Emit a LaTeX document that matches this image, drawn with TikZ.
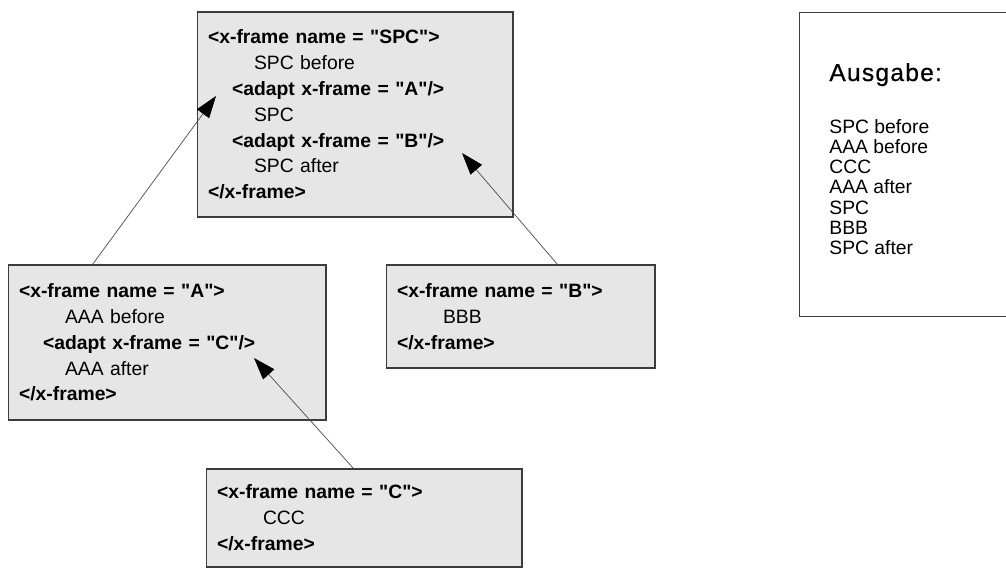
\documentclass[tikz,border=0pt]{standalone}
\usepackage{fontspec}
\setmainfont{Liberation Sans}[Ligatures=TeXOff]
\usetikzlibrary{arrows.meta}
\definecolor{framegray}{RGB}{230,230,230}
\definecolor{edgegray}{RGB}{60,60,60}
\tikzset{
  xframe/.style={draw=edgegray,line width=0.6pt,fill=framegray,rectangle,
    inner xsep=0.22cm,inner ysep=0pt,align=left,
    font=\fontsize{11}{14.7}\selectfont},
  link/.style={draw=black!70,line width=0.4pt,
    -{Triangle[length=0.44cm,width=0.3cm,color=black]}},
}
\newcommand{\tg}[1]{\textbf{#1}}
\newcommand{\inbody}{\hspace*{0.92cm}}
\newcommand{\inadapt}{\hspace*{0.48cm}}
\begin{document}
\begin{tikzpicture}[x=0.02cm,y=-0.02cm]
        \clip (0,0) rectangle (1006,568);
        %% Frames
        \node[xframe,text width=5.88cm,minimum height=4.1cm] (spc) at (355,114.5) {%
          \tg{<x-frame name = "SPC">}\\
          \inbody SPC before\\
          \inadapt\tg{<adapt x-frame = "A"/>}\\
          \inbody SPC\\
          \inadapt\tg{<adapt x-frame = "B"/>}\\
          \inbody SPC after\\
          \tg{</x-frame>}};
        \node[xframe,text width=5.92cm,minimum height=3.1cm] (a) at (167,342.5) {%
          \tg{<x-frame name = "A">}\\
          \inbody AAA before\\
          \inadapt\tg{<adapt x-frame = "C"/>}\\
          \inbody AAA after\\
          \tg{</x-frame>}};
        \node[xframe,text width=4.94cm,minimum height=2.06cm] (b) at (520.5,316.5) {%
          \tg{<x-frame name = "B">}\\
          \inbody BBB\\
          \tg{</x-frame>}};
        \node[xframe,text width=5.88cm,minimum height=1.96cm] (c) at (364,518) {%
          \tg{<x-frame name = "C">}\\
          \inbody CCC\\
          \tg{</x-frame>}};
        %% Output
        \node[draw=edgegray,line width=0.6pt,fill=white,rectangle,anchor=north west,
          inner sep=0pt,minimum width=5cm,minimum height=6.08cm] (out) at (799,12) {};
        \node[anchor=base west,inner sep=0pt,
          font=\fontsize{14}{16}\selectfont\addfontfeature{LetterSpace=5,FakeBold=0.6}] (outhead) at (829,81) {Ausgabe:};
        \node[anchor=north west,inner sep=0pt,align=left,
          font=\fontsize{11}{11.5}\selectfont] (outlist) at (829,119) {%
          SPC before\\AAA before\\CCC\\AAA after\\SPC\\BBB\\SPC after};
        %% Adapt links
        \coordinate (adaptA) at (216,96);
        \coordinate (adaptB) at (462,153);
        \coordinate (adaptC) at (254,358);
        \draw[link] (a.north west) ++(85,0) -- (adaptA);
        \draw[link] (b.north west) ++(172,0) -- (adaptB);
        \draw[link] (c.north west) ++(148,0) -- (adaptC);
\end{tikzpicture}
\end{document}
